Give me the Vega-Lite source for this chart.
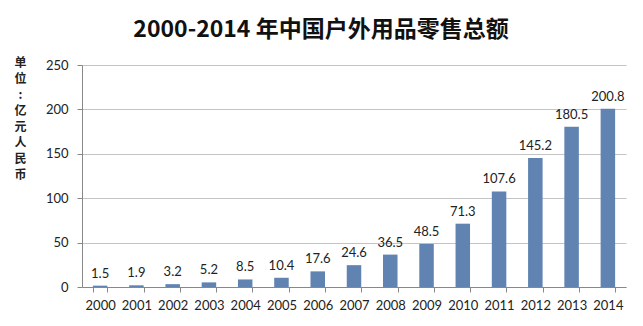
{
  "$schema": "https://vega.github.io/schema/vega-lite/v6.json",
  "autosize": {"type": "none"},
  "width": 544,
  "height": 222,
  "padding": {"left": 82, "top": 65, "right": 17, "bottom": 39},
  "background": "white",
  "title": {
    "text": "2000-2014 年中国户外用品零售总额",
    "font": "Noto Sans CJK SC",
    "fontSize": 23,
    "fontWeight": "bold",
    "color": "#111111",
    "anchor": "middle",
    "dx": -33,
    "offset": 14
  },
  "data": {
    "values": [
      {"year": "2000", "value": 1.5},
      {"year": "2001", "value": 1.9},
      {"year": "2002", "value": 3.2},
      {"year": "2003", "value": 5.2},
      {"year": "2004", "value": 8.5},
      {"year": "2005", "value": 10.4},
      {"year": "2006", "value": 17.6},
      {"year": "2007", "value": 24.6},
      {"year": "2008", "value": 36.5},
      {"year": "2009", "value": 48.5},
      {"year": "2010", "value": 71.3},
      {"year": "2011", "value": 107.6},
      {"year": "2012", "value": 145.2},
      {"year": "2013", "value": 180.5},
      {"year": "2014", "value": 200.8}
    ]
  },
  "encoding": {
    "x": {
      "field": "year",
      "type": "ordinal",
      "scale": {"paddingInner": 0.6, "paddingOuter": 0.3},
      "axis": {
        "title": null,
        "labelAngle": 0,
        "labelFont": "Lato",
        "labelFontSize": 13,
        "labelColor": "#222222",
        "labelPadding": 7,
        "tickBand": "extent",
        "tickSize": 5,
        "tickColor": "#888888",
        "domainColor": "#888888"
      }
    },
    "y": {
      "field": "value",
      "type": "quantitative",
      "scale": {"domain": [0, 250]},
      "axis": {
        "values": [0, 50, 100, 150, 200, 250],
        "title": ["单", "位", ":", "亿", "元", "人", "民", "币"],
        "titleFont": "Noto Sans CJK SC",
        "titleFontSize": 12,
        "titleFontWeight": "bold",
        "titleColor": "#222222",
        "titleAngle": 0,
        "titleAlign": "center",
        "titleBaseline": "top",
        "titleLineHeight": 16,
        "titleX": -62,
        "titleY": -8,
        "labelFont": "Lato",
        "labelFontSize": 13,
        "labelColor": "#222222",
        "labelPadding": 9,
        "tickSize": 5,
        "tickColor": "#888888",
        "domainColor": "#888888",
        "gridColor": "#c4c4c4"
      }
    }
  },
  "layer": [
    {"mark": {"type": "bar", "color": "#6083b2"}},
    {
      "mark": {"type": "text", "dy": -12, "font": "Lato", "fontSize": 13, "color": "#222222"},
      "encoding": {"text": {"field": "value", "type": "quantitative", "format": ".1f"}}
    }
  ],
  "config": {"view": {"stroke": null}}
}
